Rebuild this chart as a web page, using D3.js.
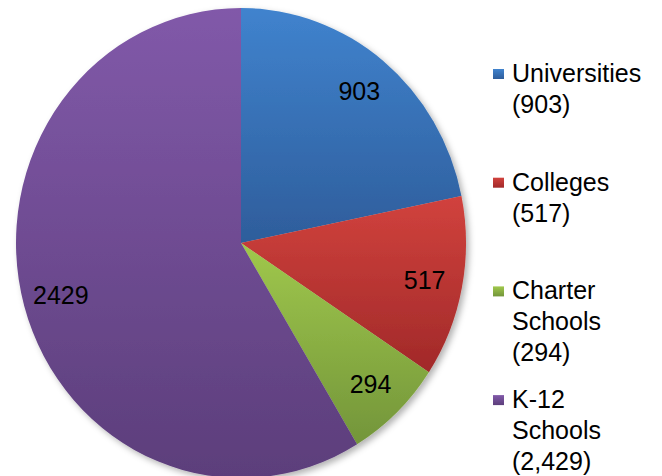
<!DOCTYPE html>
<html>
  <head>
    <meta charset="UTF-8">
    <style>
      body { margin: 0; background: #fff; }
      text { font-family: "Liberation Sans", Arial, sans-serif; fill: #000; }
      .lbl { font-size: 25px; text-anchor: middle; }
      .leg text { font-size: 25px; }
    </style>
    <script src="https://d3js.org/d3.v7.min.js"></script>
  </head>
  <body>
    <script>
      var categories = ["Universities", "Colleges", "Charter Schools", "K-12 Schools"];
      var values = [903, 517, 294, 2429];
      var legendLines = [["Universities", "(903)"], ["Colleges", "(517)"],
                         ["Charter", "Schools", "(294)"], ["K-12", "Schools", "(2,429)"]];
      var topColors = ["#4083ce", "#d1423d", "#a0c84c", "#8159a9"];
      var bottomColors = ["#2e5d9b", "#a12929", "#73953a", "#5c3e7b"];

      var width = 662, height = 476;
      var cx = 241, cy = 243, rx = 225, ry = 235;
      var ky = ry / rx;

      var svg = d3.select("body").append("svg")
        .attr("width", width)
        .attr("height", height);

      var defs = svg.append("defs");
      categories.forEach(function(c, i) {
        var g = defs.append("linearGradient")
          .attr("id", "grad" + i)
          .attr("x1", 0).attr("y1", 0).attr("x2", 0).attr("y2", 1);
        g.append("stop").attr("offset", "0%").attr("stop-color", topColors[i]);
        g.append("stop").attr("offset", "100%").attr("stop-color", bottomColors[i]);
      });

      var f = defs.append("filter").attr("id", "shadow")
        .attr("x", "-10%").attr("y", "-10%").attr("width", "120%").attr("height", "120%");
      f.append("feDropShadow")
        .attr("dx", 3).attr("dy", 3).attr("stdDeviation", 3)
        .attr("flood-color", "#000").attr("flood-opacity", 0.3);

      var pie = d3.pie().sort(null).value(function(d) { return d; });
      var arcs = pie(values);

      var arc = d3.arc().innerRadius(0).outerRadius(rx);
      var labelArc = d3.arc().innerRadius(187).outerRadius(187);

      var pieG = svg.append("g")
        .attr("filter", "url(#shadow)")
        .attr("transform", "translate(" + cx + "," + cy + ") scale(1," + ky + ")");

      pieG.selectAll("path")
        .data(arcs)
        .enter().append("path")
        .attr("d", arc)
        .attr("fill", function(d, i) { return "url(#grad" + i + ")"; });

      svg.append("g")
        .attr("transform", "translate(" + cx + "," + cy + ")")
        .selectAll("text")
        .data(arcs)
        .enter().append("text")
        .attr("class", "lbl")
        .attr("x", function(d) { return labelArc.centroid(d)[0]; })
        .attr("y", function(d) { return labelArc.centroid(d)[1] * ky; })
        .attr("dy", "0.35em")
        .text(function(d) { return d.data; });

      // legend
      var leg = svg.append("g").attr("class", "leg");
      var step = 108.7;
      legendLines.forEach(function(lines, i) {
        var base = 82 + i * step;
        leg.append("rect")
          .attr("x", 493).attr("y", base - 13)
          .attr("width", 11).attr("height", 10)
          .attr("fill", "url(#grad" + i + ")");
        var t = leg.append("text").attr("x", 512).attr("y", base);
        lines.forEach(function(s, j) {
          t.append("tspan").attr("x", 512).attr("y", base + j * 31).text(s);
        });
      });
    </script>
  </body>
</html>
